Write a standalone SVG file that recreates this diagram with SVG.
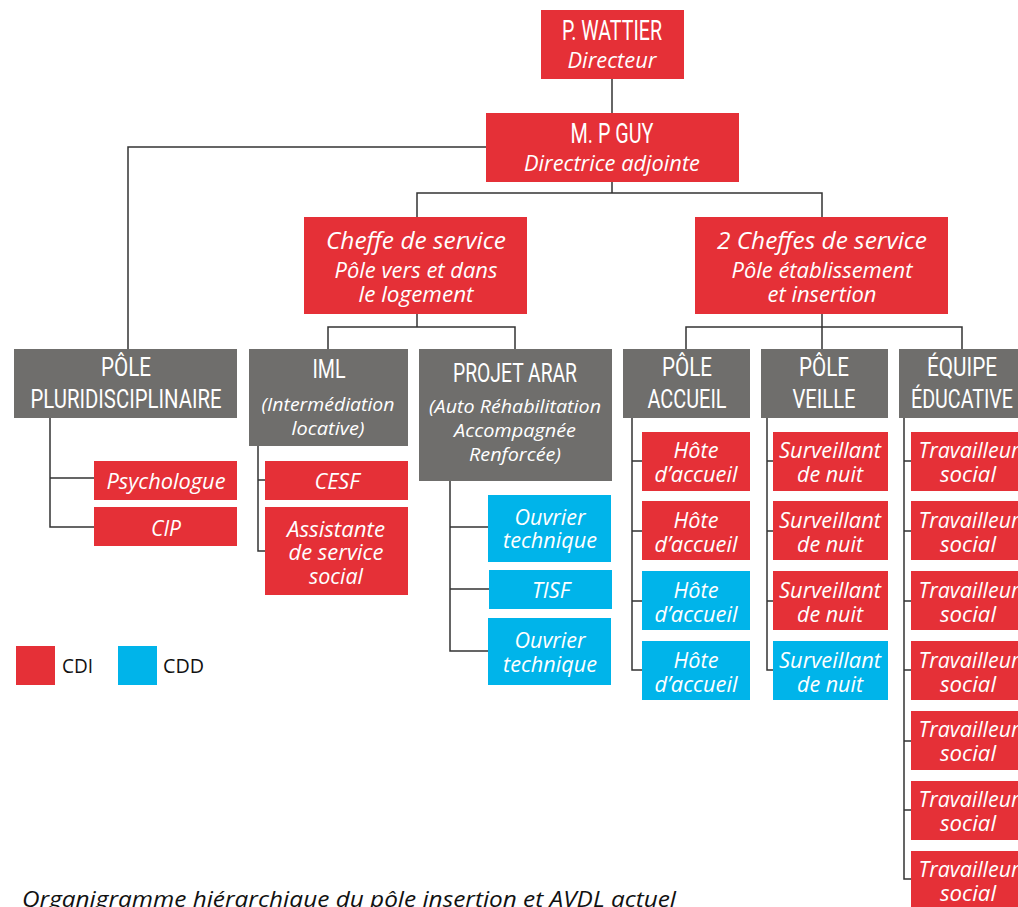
<svg xmlns="http://www.w3.org/2000/svg" width="1018" height="907" viewBox="0 0 1018 907">
<style>
.red{fill:#E53037}
.gray{fill:#6F6E6C}
.blue{fill:#00B4EA}
.t{font-family:"Open Sans","DejaVu Sans",sans-serif;font-style:italic;font-size:21px;fill:#fff;text-anchor:middle}
.s{font-size:18.5px}
.b{font-size:23.5px}
.h{font-family:Roboto,"DejaVu Sans Condensed",sans-serif;font-size:26px;fill:#fff;text-anchor:middle}
.hb{font-size:28px}
.c{fill:none;stroke:#333;stroke-width:1.5}
.l{font-family:"Open Sans","DejaVu Sans",sans-serif;font-size:20px;fill:#111}
</style>
<rect width="1018" height="907" fill="#fff"/>
<g id="connectors" class="c">
<path d="M612 79V113"/>
<path d="M486 147H128V349"/>
<path d="M612 182V193"/>
<path d="M417 217V193H822V217"/>
<path d="M417 314V327"/>
<path d="M328 349V327H515V349"/>
<path d="M822 314V349"/>
<path d="M686 349V327H962V349"/>
<path d="M50 418V527H94M50 478H94"/>
<path d="M258 446V551H265M258 480H265"/>
<path d="M450 481V651H488M450 527H488M450 589H489"/>
<path d="M632 418V670H642M632 461H642M632 531H642M632 601H642"/>
<path d="M767 418V670H773M767 461H773M767 531H773M767 601H773"/>
<path d="M904 418V879H911M904 461H911M904 531H911M904 601H911M904 670H911M904 741H911M904 810H911"/>
</g>
<g id="n-wattier"><rect class="red" x="541" y="10" width="143" height="69"/><text class="h hb" x="612" y="40" textLength="100" lengthAdjust="spacingAndGlyphs">P. WATTIER</text><text class="t" x="612" y="68" textLength="89" lengthAdjust="spacingAndGlyphs">Directeur</text></g>
<g id="n-guy"><rect class="red" x="486" y="113" width="253" height="69"/><text class="h hb" x="612" y="143" textLength="83" lengthAdjust="spacingAndGlyphs">M. P GUY</text><text class="t" x="612" y="171" textLength="176" lengthAdjust="spacingAndGlyphs">Directrice adjointe</text></g>
<g id="n-cheffe"><rect class="red" x="304" y="217" width="223" height="97"/><text class="t b" x="416" y="249" textLength="180" lengthAdjust="spacingAndGlyphs">Cheffe de service</text><text class="t" x="416" y="278" textLength="163" lengthAdjust="spacingAndGlyphs">Pôle vers et dans</text><text class="t" x="416" y="302" textLength="115" lengthAdjust="spacingAndGlyphs">le logement</text></g>
<g id="n-cheffes"><rect class="red" x="695" y="217" width="253" height="97"/><text class="t b" x="822" y="249" textLength="210" lengthAdjust="spacingAndGlyphs">2 Cheffes de service</text><text class="t" x="822" y="278" textLength="181" lengthAdjust="spacingAndGlyphs">Pôle établissement</text><text class="t" x="822" y="302" textLength="109" lengthAdjust="spacingAndGlyphs">et insertion</text></g>
<g id="n-pluri"><rect class="gray" x="14" y="349" width="223" height="69"/><text class="h" x="126" y="376" textLength="50" lengthAdjust="spacingAndGlyphs">PÔLE</text><text class="h" x="126" y="408" textLength="191" lengthAdjust="spacingAndGlyphs">PLURIDISCIPLINAIRE</text></g>
<g id="n-iml"><rect class="gray" x="249" y="349" width="159" height="97"/><text class="h" x="329" y="378" textLength="33" lengthAdjust="spacingAndGlyphs">IML</text><text class="t s" x="328" y="411" textLength="133" lengthAdjust="spacingAndGlyphs">(Intermédiation</text><text class="t s" x="328" y="435" textLength="73" lengthAdjust="spacingAndGlyphs">locative)</text></g>
<g id="n-arar"><rect class="gray" x="419" y="349" width="193" height="132"/><text class="h" x="515" y="382" textLength="124" lengthAdjust="spacingAndGlyphs">PROJET ARAR</text><text class="t s" x="515" y="413" textLength="172" lengthAdjust="spacingAndGlyphs">(Auto Réhabilitation</text><text class="t s" x="515" y="437" textLength="122" lengthAdjust="spacingAndGlyphs">Accompagnée</text><text class="t s" x="515" y="461" textLength="92" lengthAdjust="spacingAndGlyphs">Renforcée)</text></g>
<g id="n-accueil"><rect class="gray" x="623" y="349" width="127" height="69"/><text class="h" x="687" y="376" textLength="50" lengthAdjust="spacingAndGlyphs">PÔLE</text><text class="h" x="687" y="408" textLength="79" lengthAdjust="spacingAndGlyphs">ACCUEIL</text></g>
<g id="n-veille"><rect class="gray" x="761" y="349" width="127" height="69"/><text class="h" x="824" y="376" textLength="50" lengthAdjust="spacingAndGlyphs">PÔLE</text><text class="h" x="824" y="408" textLength="63" lengthAdjust="spacingAndGlyphs">VEILLE</text></g>
<g id="n-equipe"><rect class="gray" x="899" y="349" width="127" height="69"/><text class="h" x="962" y="376" textLength="70" lengthAdjust="spacingAndGlyphs">ÉQUIPE</text><text class="h" x="962" y="408" textLength="102" lengthAdjust="spacingAndGlyphs">ÉDUCATIVE</text></g>
<g id="n-psy"><rect class="red" x="94" y="461" width="143" height="39"/><text class="t" x="166" y="489" textLength="119" lengthAdjust="spacingAndGlyphs">Psychologue</text></g>
<g id="n-cip"><rect class="red" x="94" y="507" width="143" height="39"/><text class="t" x="166" y="536" textLength="30" lengthAdjust="spacingAndGlyphs">CIP</text></g>
<g id="n-cesf"><rect class="red" x="265" y="461" width="143" height="39"/><text class="t" x="337" y="489" textLength="45" lengthAdjust="spacingAndGlyphs">CESF</text></g>
<g id="n-ass"><rect class="red" x="265" y="507" width="143" height="88"/><text class="t" x="336" y="537" textLength="98" lengthAdjust="spacingAndGlyphs">Assistante</text><text class="t" x="336" y="560" textLength="95" lengthAdjust="spacingAndGlyphs">de service</text><text class="t" x="336" y="584" textLength="54" lengthAdjust="spacingAndGlyphs">social</text></g>
<g id="n-ouv1"><rect class="blue" x="488" y="495" width="123" height="67"/><text class="t" x="550" y="525" textLength="71" lengthAdjust="spacingAndGlyphs">Ouvrier</text><text class="t" x="550" y="548" textLength="94" lengthAdjust="spacingAndGlyphs">technique</text></g>
<g id="n-tisf"><rect class="blue" x="489" y="570" width="123" height="39"/><text class="t" x="551" y="598" textLength="38" lengthAdjust="spacingAndGlyphs">TISF</text></g>
<g id="n-ouv2"><rect class="blue" x="488" y="618" width="123" height="67"/><text class="t" x="550" y="648" textLength="71" lengthAdjust="spacingAndGlyphs">Ouvrier</text><text class="t" x="550" y="672" textLength="94" lengthAdjust="spacingAndGlyphs">technique</text></g>
<g id="n-hote1"><rect class="red" x="642" y="432" width="108" height="59"/><text class="t" x="696" y="458" textLength="45" lengthAdjust="spacingAndGlyphs">Hôte</text><text class="t" x="696" y="482" textLength="83" lengthAdjust="spacingAndGlyphs">d’accueil</text></g>
<g id="n-hote2"><rect class="red" x="642" y="501" width="108" height="59"/><text class="t" x="696" y="528" textLength="45" lengthAdjust="spacingAndGlyphs">Hôte</text><text class="t" x="696" y="552" textLength="83" lengthAdjust="spacingAndGlyphs">d’accueil</text></g>
<g id="n-hote3"><rect class="blue" x="642" y="571" width="108" height="59"/><text class="t" x="696" y="598" textLength="45" lengthAdjust="spacingAndGlyphs">Hôte</text><text class="t" x="696" y="622" textLength="83" lengthAdjust="spacingAndGlyphs">d’accueil</text></g>
<g id="n-hote4"><rect class="blue" x="642" y="641" width="108" height="59"/><text class="t" x="696" y="668" textLength="45" lengthAdjust="spacingAndGlyphs">Hôte</text><text class="t" x="696" y="692" textLength="83" lengthAdjust="spacingAndGlyphs">d’accueil</text></g>
<g id="n-surv1"><rect class="red" x="773" y="432" width="115" height="59"/><text class="t" x="830" y="458" textLength="102" lengthAdjust="spacingAndGlyphs">Surveillant</text><text class="t" x="830" y="482" textLength="66" lengthAdjust="spacingAndGlyphs">de nuit</text></g>
<g id="n-surv2"><rect class="red" x="773" y="501" width="115" height="59"/><text class="t" x="830" y="528" textLength="102" lengthAdjust="spacingAndGlyphs">Surveillant</text><text class="t" x="830" y="552" textLength="66" lengthAdjust="spacingAndGlyphs">de nuit</text></g>
<g id="n-surv3"><rect class="red" x="773" y="571" width="115" height="59"/><text class="t" x="830" y="598" textLength="102" lengthAdjust="spacingAndGlyphs">Surveillant</text><text class="t" x="830" y="622" textLength="66" lengthAdjust="spacingAndGlyphs">de nuit</text></g>
<g id="n-surv4"><rect class="blue" x="773" y="641" width="115" height="59"/><text class="t" x="830" y="668" textLength="102" lengthAdjust="spacingAndGlyphs">Surveillant</text><text class="t" x="830" y="692" textLength="66" lengthAdjust="spacingAndGlyphs">de nuit</text></g>
<g id="n-trav1"><rect class="red" x="911" y="432" width="115" height="59"/><text class="t" x="969" y="458" textLength="101" lengthAdjust="spacingAndGlyphs">Travailleur</text><text class="t" x="968" y="482" textLength="56" lengthAdjust="spacingAndGlyphs">social</text></g>
<g id="n-trav2"><rect class="red" x="911" y="501" width="115" height="59"/><text class="t" x="969" y="528" textLength="101" lengthAdjust="spacingAndGlyphs">Travailleur</text><text class="t" x="968" y="552" textLength="56" lengthAdjust="spacingAndGlyphs">social</text></g>
<g id="n-trav3"><rect class="red" x="911" y="571" width="115" height="59"/><text class="t" x="969" y="598" textLength="101" lengthAdjust="spacingAndGlyphs">Travailleur</text><text class="t" x="968" y="622" textLength="56" lengthAdjust="spacingAndGlyphs">social</text></g>
<g id="n-trav4"><rect class="red" x="911" y="641" width="115" height="59"/><text class="t" x="969" y="668" textLength="101" lengthAdjust="spacingAndGlyphs">Travailleur</text><text class="t" x="968" y="692" textLength="56" lengthAdjust="spacingAndGlyphs">social</text></g>
<g id="n-trav5"><rect class="red" x="911" y="711" width="115" height="59"/><text class="t" x="969" y="737" textLength="101" lengthAdjust="spacingAndGlyphs">Travailleur</text><text class="t" x="968" y="761" textLength="56" lengthAdjust="spacingAndGlyphs">social</text></g>
<g id="n-trav6"><rect class="red" x="911" y="781" width="115" height="59"/><text class="t" x="969" y="807" textLength="101" lengthAdjust="spacingAndGlyphs">Travailleur</text><text class="t" x="968" y="831" textLength="56" lengthAdjust="spacingAndGlyphs">social</text></g>
<g id="n-trav7"><rect class="red" x="911" y="851" width="115" height="59"/><text class="t" x="969" y="877" textLength="101" lengthAdjust="spacingAndGlyphs">Travailleur</text><text class="t" x="968" y="901" textLength="56" lengthAdjust="spacingAndGlyphs">social</text></g>
<g id="legend"><rect class="red" x="16" y="646" width="39" height="39"/><text class="l" x="62" y="673" textLength="31" lengthAdjust="spacingAndGlyphs">CDI</text><rect class="blue" x="118" y="646" width="39" height="39"/><text class="l" x="163" y="673" textLength="41" lengthAdjust="spacingAndGlyphs">CDD</text></g>
<text id="caption" x="22" y="907" font-family="'Open Sans','DejaVu Sans',sans-serif" font-style="italic" font-size="22" fill="#111" textLength="654" lengthAdjust="spacingAndGlyphs">Organigramme hiérarchique du pôle insertion et AVDL actuel</text>
</svg>
